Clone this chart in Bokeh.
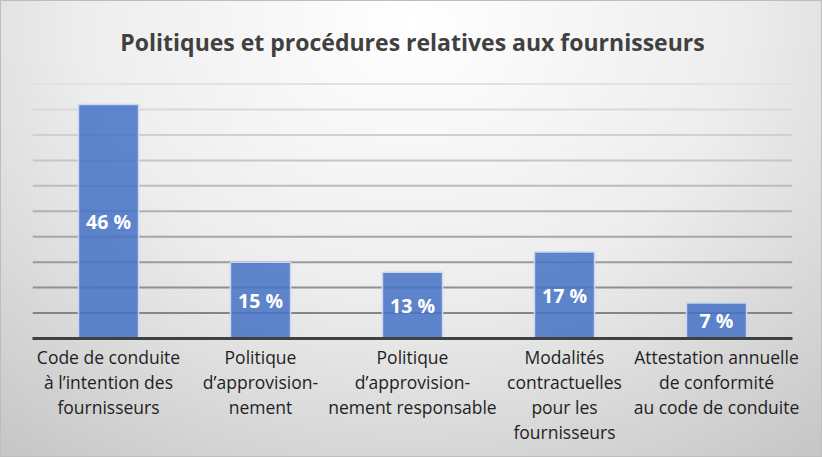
import numpy as np
from bokeh.plotting import figure
from bokeh.models import ColumnDataSource, Span, FactorRange, Range1d
from bokeh.core.properties import value
from bokeh.embed import file_html
from bokeh.resources import INLINE

categories = [
    "Code de conduite\nà l’intention des\nfournisseurs",
    "Politique\nd’approvision-\nnement",
    "Politique\nd’approvision-\nnement responsable",
    "Modalités\ncontractuelles\npour les\nfournisseurs",
    "Attestation annuelle\nde conformité\nau code de conduite",
]
values = [46, 15, 13, 17, 7]
grid_ticks = [5, 10, 15, 20, 25, 30, 35, 40, 45, 50]
title_text = "Politiques et procédures relatives aux fournisseurs"

src = ColumnDataSource(dict(
    cat=categories,
    val=values,
    mid=[v / 2 for v in values],
    lbl=[f"{v} %" for v in values],
))

p = figure(
    width=822, height=457,
    x_range=FactorRange(*categories, range_padding=0),
    y_range=Range1d(0, 50.5),
    output_backend="svg", toolbar_location=None,
    min_border_left=32, min_border_right=30,
    min_border_bottom=119, min_border_top=25,
)
p.styles = {
    "background": "radial-gradient(ellipse 80% 120% at 50% 5%, #ffffff 0%, #ededed 50%, #c6c6c6 100%)",
    "box-shadow": "inset 0 0 0 1px #bdbdbd",
}
p.background_fill_alpha = 0
p.border_fill_alpha = 0
p.outline_line_color = None

p.title.text = title_text
p.title.align = "center"
p.title.text_font = "Open Sans"
p.title.text_font_style = "bold"
p.title.text_font_size = "23px"
p.title.text_color = "#404040"
p.title.standoff = 47

p.xgrid.visible = False
p.ygrid.visible = False
p.yaxis.visible = False

grid_colors = ["#e2e2e2", "#d9d9d9", "#d0d0d0", "#c6c6c6", "#bcbcbc",
               "#b1b1b1", "#a6a6a6", "#9b9b9b", "#909090", "#858585"][::-1]
for t, c in zip(grid_ticks, grid_colors):
    p.add_layout(Span(location=t, dimension="width", line_color=c,
                      line_width=2, level="underlay"))

p.vbar(x="cat", top="val", width=0.395, source=src,
       fill_color="#4472C4", fill_alpha=0.85,
       line_color="#c9d6f0", line_width=1.5)

p.text(x="cat", y="mid", text="lbl", source=src,
       text_font=value("Open Sans"), text_font_style="bold",
       text_font_size="19.5px", text_color="white",
       text_align="center", text_baseline="middle")

ax = p.xaxis[0]
ax.axis_line_color = "#404040"
ax.axis_line_width = 3
ax.major_tick_line_color = None
ax.minor_tick_line_color = None
ax.major_label_text_font = "Open Sans"
ax.major_label_text_font_size = "17.5px"
ax.major_label_text_color = "#1f1f1f"
ax.major_label_text_line_height = 1.05
ax.major_label_standoff = 0

open("out.html", "w").write(file_html(p, INLINE))
